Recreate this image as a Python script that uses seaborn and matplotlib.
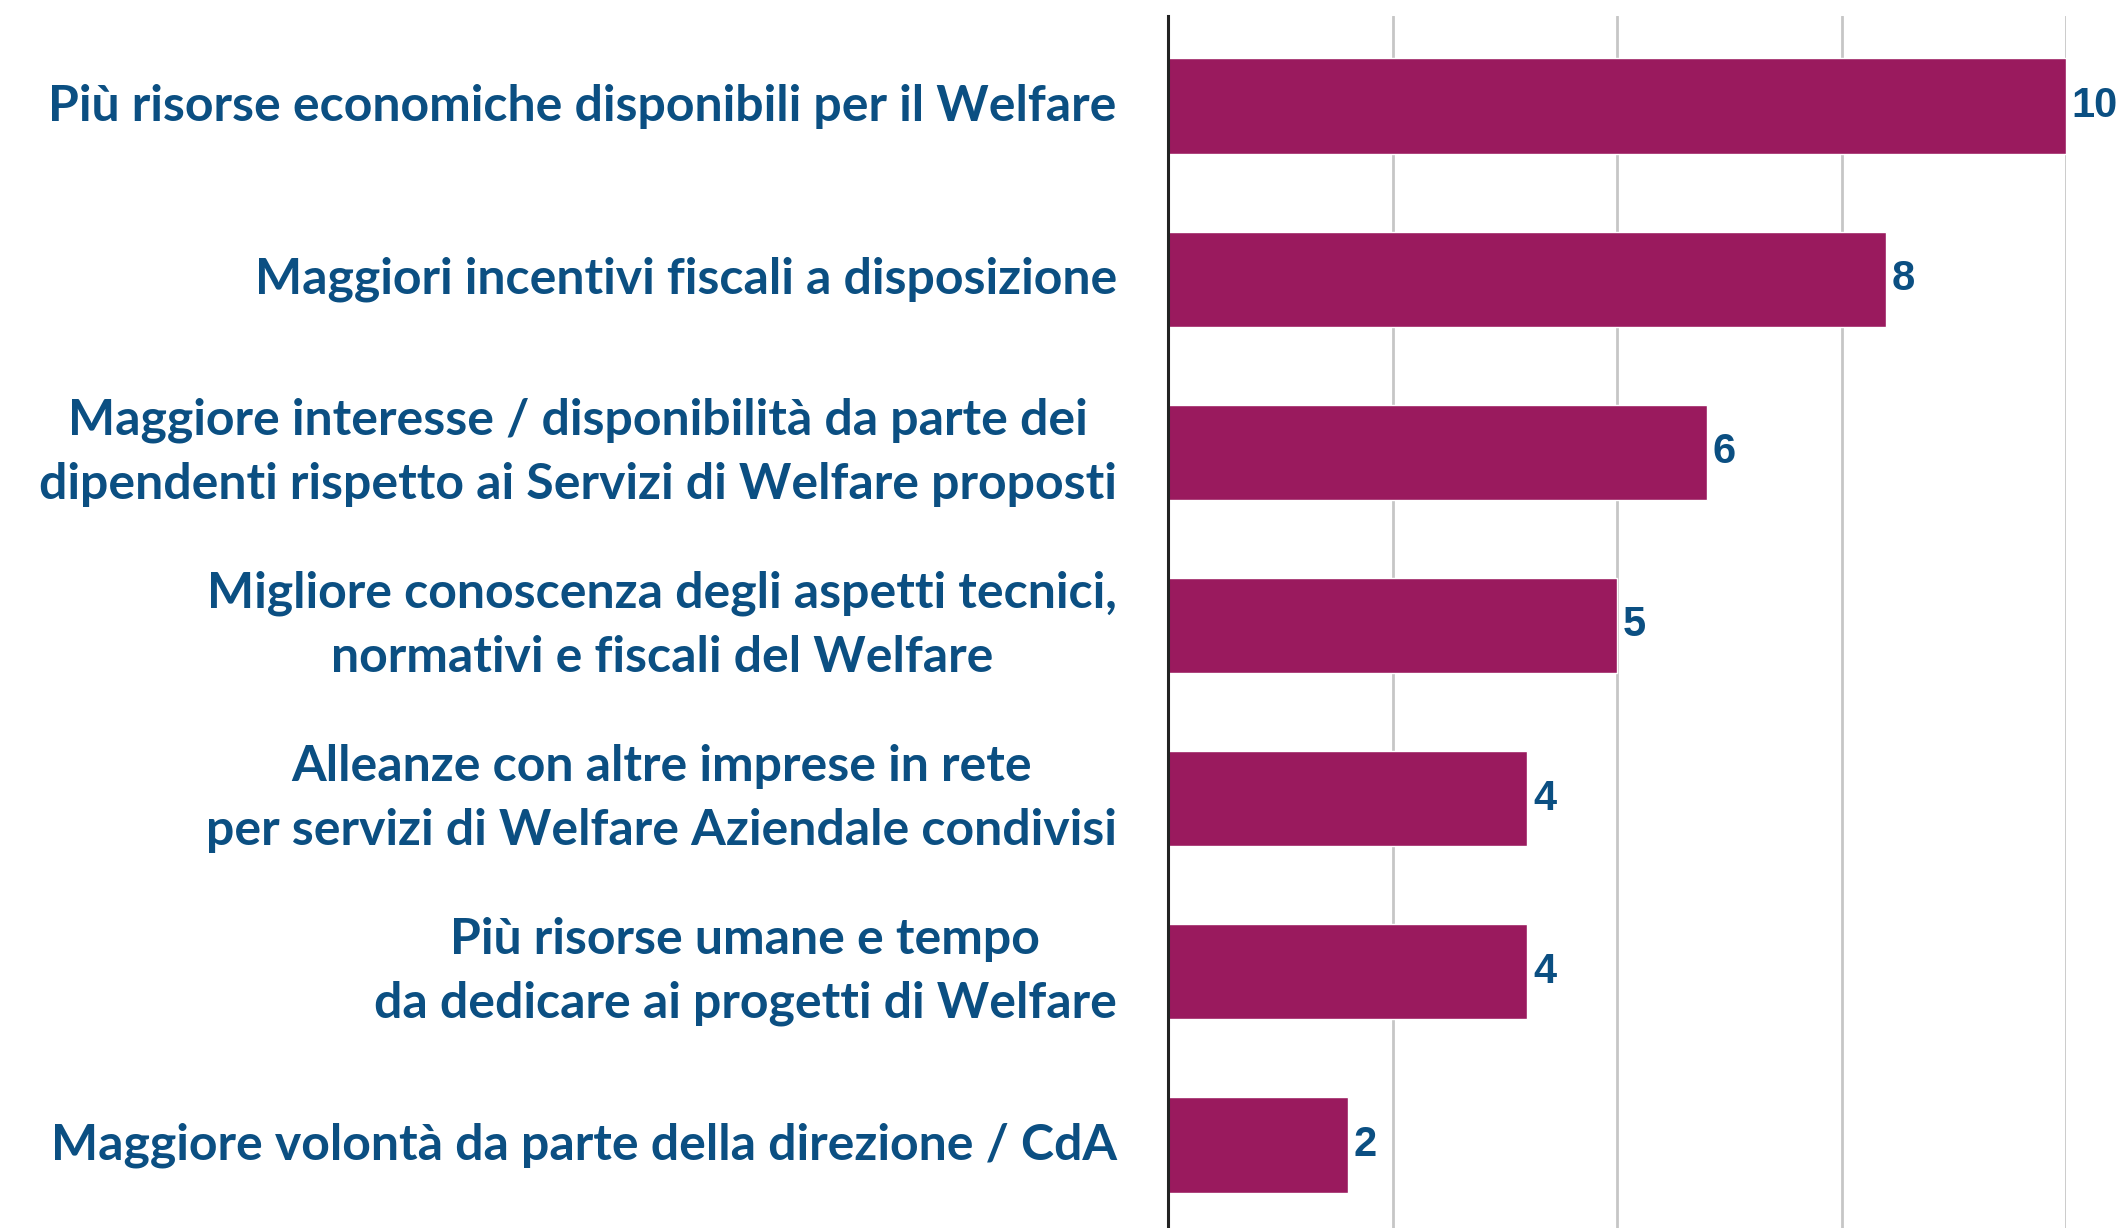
import numpy as np
import pandas as pd
import matplotlib
matplotlib.use("Agg")
import matplotlib.pyplot as plt
import seaborn as sns

categories = [
    "Più risorse economiche disponibili per il Welfare",
    "Maggiori incentivi fiscali a disposizione",
    "Maggiore interesse / disponibilità da parte dei\ndipendenti rispetto ai Servizi di Welfare proposti",
    "Migliore conoscenza degli aspetti tecnici,\nnormativi e fiscali del Welfare",
    "Alleanze con altre imprese in rete\nper servizi di Welfare Aziendale condivisi",
    "Più risorse umane e tempo\nda dedicare ai progetti di Welfare",
    "Maggiore volontà da parte della direzione / CdA",
]
values = [10, 8, 6, 5, 4, 4, 2]

bar_color = "#9a1a5e"
text_color = "#0b4f82"

df = pd.DataFrame({"Motivo": categories, "Valore": values})

sns.set_style("white")
plt.rcParams["font.family"] = ["Lato", "DejaVu Sans"]

fig = plt.figure(figsize=(21.24, 12.28), dpi=100)
ax = fig.add_axes([0.55, 0.0, 0.4227, 0.987])

sns.barplot(data=df, x="Valore", y="Motivo", orient="h", color=bar_color,
            saturation=1, width=0.55, ax=ax)

ax.set_xlim(0, 10)
ax.set_ylim(6.48, -0.52)
ax.set_xticks([2.5, 5, 7.5, 10])
ax.set_xticklabels([])
ax.grid(axis="x", color="#c6c6c6", linewidth=2)
ax.set_axisbelow(True)
ax.tick_params(length=0)
ax.set_xlabel("")
ax.set_ylabel("")

for side in ["top", "right", "bottom"]:
    ax.spines[side].set_visible(False)
ax.spines["left"].set_color("#222222")
ax.spines["left"].set_linewidth(2.2)

ax.set_yticks(range(len(categories)))
ax.set_yticklabels(categories, fontsize=36, fontweight="bold", color=text_color,
                   multialignment="center", linespacing=1.5, va="center")
ax.tick_params(axis="y", pad=37)

ax.bar_label(ax.containers[0], labels=[str(v) for v in values], padding=4,
             fontsize=30, fontweight="bold", color=text_color,
             family="Liberation Sans")

fig.savefig("out.png", dpi=100)
